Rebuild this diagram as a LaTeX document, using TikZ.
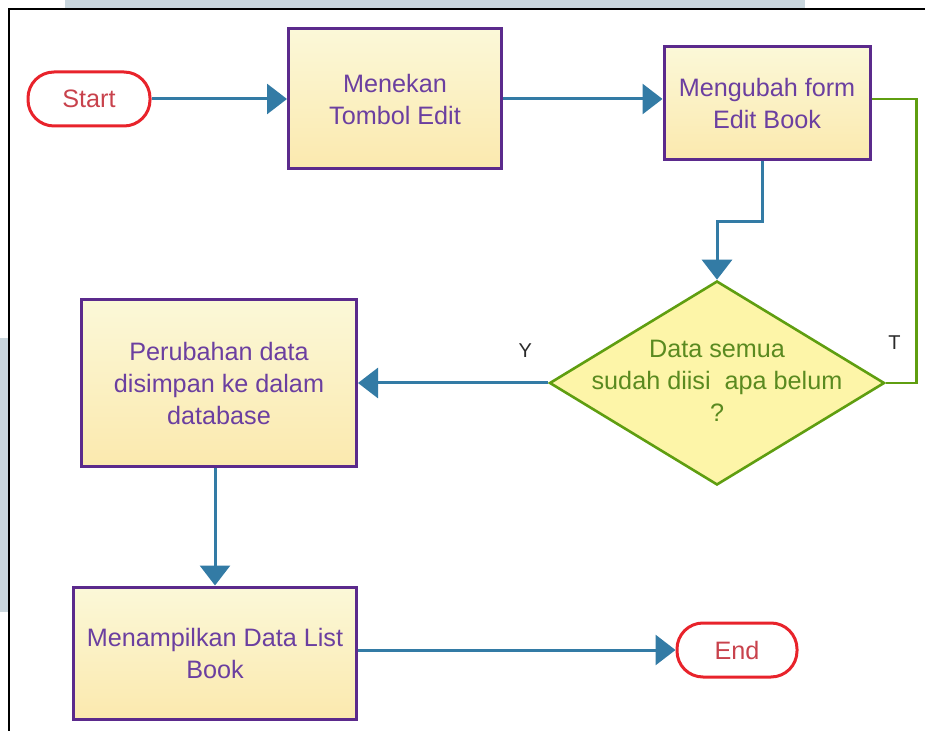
\documentclass[tikz,border=0pt]{standalone}
\usepackage{fontspec}
\setmainfont{Liberation Sans}
\usetikzlibrary{shapes,arrows.meta,calc,positioning}
\definecolor{alurbiru}{HTML}{337BA5}
\definecolor{merah}{HTML}{E8232B}
\definecolor{merahteks}{HTML}{C8424C}
\definecolor{ungu}{HTML}{5B2A8C}
\definecolor{unguteks}{HTML}{6B3FA0}
\definecolor{kuningatas}{HTML}{FBF8D8}
\definecolor{kuningbawah}{HTML}{FBE9AE}
\definecolor{kuningdc}{HTML}{FDF5A8}
\definecolor{hijau}{HTML}{5F9E10}
\definecolor{hijauteks}{HTML}{5A8A20}
\definecolor{abu}{HTML}{2A2A2A}
\definecolor{latar}{HTML}{C9D6DD}
\tikzstyle{terminal} = [rectangle, draw=merah, line width=1.5pt, text=merahteks,
    rounded corners=13pt, minimum width=61pt, minimum height=27pt]
\tikzstyle{pb} = [rectangle, draw=ungu, line width=1.5pt, top color=kuningatas,
    bottom color=kuningbawah, text=unguteks, align=center, inner sep=0pt]
\tikzstyle{dc} = [diamond, draw=hijau, line width=1.3pt, fill=kuningdc, text=hijauteks,
    inner sep=0pt, minimum width=167.5pt, minimum height=102pt]
\tikzstyle{alur} = [->, draw=alurbiru, line width=1.5pt]
\tikzstyle{balik} = [draw=hijau, line width=1.3pt]
\tikzstyle{lbl} = [text=abu, font=\fontsize{10}{12}\selectfont]

\begin{document}
\begin{tikzpicture}[x=0.5pt,y=-0.5pt,node distance=150pt,
                    font=\fontsize{12.6}{16}\selectfont,
                    >={Triangle[length=10pt,width=15pt]}]
  \useasboundingbox (0,0) rectangle (925,731);
  % latar tangkapan layar
  \fill[latar] (65,0) rectangle (805,8);
  \fill[latar] (0,338) rectangle (8,612);
  \draw[line width=1pt] (8.5,731) -- (8.5,9) -- (925,9);

  \node[terminal]     (1) at (89,99) {Start};
  \node[pb, minimum width=106.5pt, minimum height=70pt]  (2) [right of=1, xshift=3pt] {Menekan\\Tombol Edit};
  \node[pb, minimum width=103pt, minimum height=56.5pt]  (3) [right of=2, xshift=36pt, yshift=-2pt] {Mengubah form\\Edit Book};
  \node[dc]           (4) [below of=3, xshift=-25pt, yshift=10pt]
      {\makebox[0pt]{\begin{tabular}{@{}c@{}}Data semua\\sudah diisi\ \ apa belum\\?\end{tabular}}};
  \node[pb, minimum width=137.5pt, minimum height=83.5pt] (5) [left of=4, xshift=-99pt] {Perubahan data\\disimpan ke dalam\\database};
  \node[pb, minimum width=141.5pt, minimum height=66pt]  (6) [below of=5, xshift=-2pt, yshift=15pt] {Menampilkan Data List\\Book};
  \node[terminal, minimum width=60pt] (7) [right of=6, xshift=111pt, yshift=1.5pt] {End};

  \draw[alur] (1.east) -- (1.east -| 2.west);
  \draw[alur] (2.east) -- (2.east -| 3.west);
  \draw[alur] ($(3.south)+(-5,0)$) -- ++(0,61) -| (4.north);
  \draw[balik] (3.east |- 2.east) -- ++(45,0) |- (4.east)
      node[lbl, pos=0.5, above left, xshift=-4pt, yshift=13pt] {T};
  \draw[alur] (4.west) -- (4.west -| 5.east) node[lbl, pos=0.12, above, yshift=8.5pt] {Y};
  \draw[alur] (5.south -| 6.north) -- (6.north);
  \draw[alur] (6.east |- 7.west) -- (7.west);
\end{tikzpicture}
\end{document}
